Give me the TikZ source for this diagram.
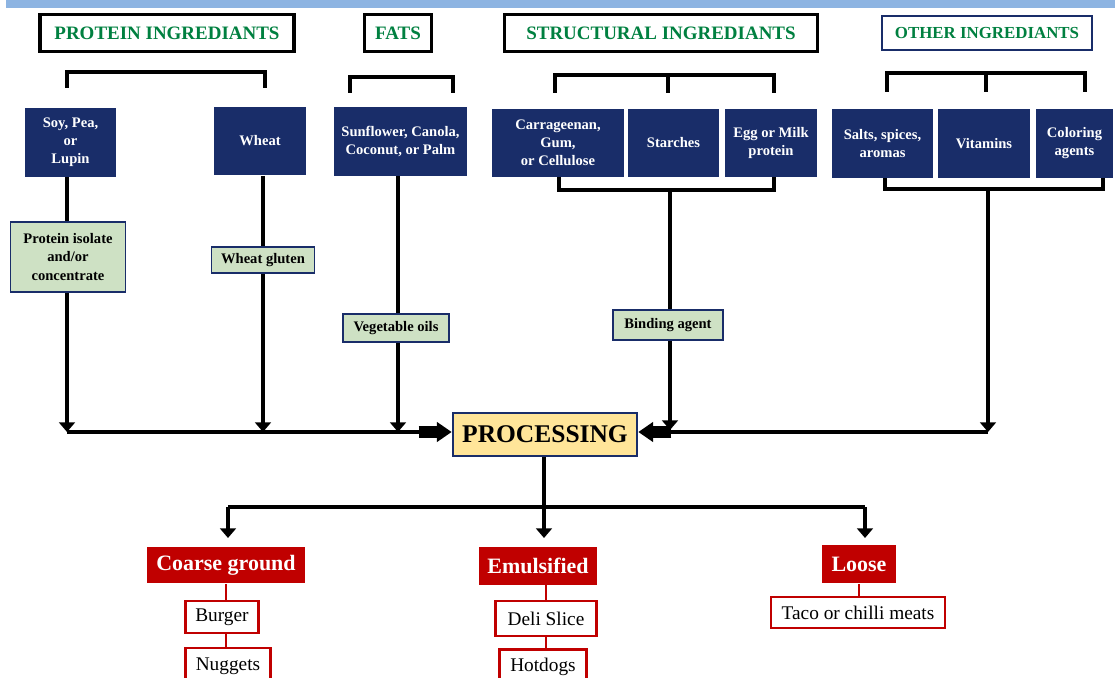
\documentclass[tikz,border=0pt]{standalone}
\usepackage{fontspec}
\setmainfont{Liberation Serif}
\usetikzlibrary{arrows.meta}
\definecolor{navy}{RGB}{25,45,105}
\definecolor{hdrgreen}{RGB}{0,128,64}
\definecolor{sage}{RGB}{206,225,196}
\definecolor{cream}{RGB}{255,229,153}
\definecolor{darkred}{RGB}{192,0,0}
\definecolor{barblue}{RGB}{141,180,226}

\begin{document}
\begin{tikzpicture}[x=0.02cm,y=-0.02cm,
    hdr/.style={draw,line width=1.8pt,fill=white,text=hdrgreen,font=\bfseries\fontsize{10.8}{12}\selectfont,minimum height=0.74cm,inner sep=0pt},
    navybox/.style={fill=navy,text=white,align=center,font=\bfseries\fontsize{8.3}{10.3}\selectfont,minimum height=1.38cm,inner sep=1pt},
    sagebox/.style={draw=navy,line width=1.1pt,fill=sage,align=center,font=\bfseries\fontsize{8.3}{10.3}\selectfont,inner sep=1pt},
    procbox/.style={draw=navy,line width=1.5pt,fill=cream,font=\bfseries\fontsize{14.5}{16}\selectfont,minimum width=3.68cm,minimum height=0.86cm},
    redbox/.style={fill=darkred,text=white,font=\bfseries\fontsize{12.5}{14}\selectfont,inner sep=0pt},
    subbox/.style={draw=darkred,line width=1.4pt,fill=white,font=\fontsize{11}{12}\selectfont,inner sep=0pt},
    brk/.style={line width=2pt},
    flow/.style={line width=2.8pt},
    downtip/.style={-{Triangle[length=5.5pt,width=9pt]}},
    bigtip/.style={-{Triangle[length=8.5pt,width=11pt]}},
    redline/.style={draw=darkred,line width=1pt}]
  \useasboundingbox (0,0) rectangle (1115,678);
  \fill[barblue] (6,0) rectangle (1115,8);

  \node[hdr,minimum width=5.08cm] (hprot)   at (167,33) {PROTEIN INGREDIANTS};
  \node[hdr,minimum width=1.34cm] (hfats)   at (398,33) {FATS};
  \node[hdr,minimum width=6.26cm] (hstruct) at (661,33) {STRUCTURAL INGREDIANTS};
  \node[hdr,draw=navy,line width=1.3pt,font=\bfseries\fontsize{9.6}{11}\selectfont,minimum width=4.2cm,minimum height=0.68cm] (hother) at (987,33) {OTHER INGREDIANTS};

  \draw[brk] (67,88) |- (265,72) -- (265,88);
  \draw[brk] (350,93) |- (453,77) -- (453,93);
  \draw[brk] (555,93) |- (774,75) -- (774,93);
  \draw[brk] (668,75) -- (668,93);
  \draw[brk] (887,92) |- (1085,73) -- (1085,92);
  \draw[brk] (986,73) -- (986,92);

  \node[navybox,minimum width=1.82cm] (soy)    at (70.5,142.5) {Soy, Pea,\\or\\Lupin};
  \node[navybox,minimum width=1.84cm] (wheat)  at (260,141)    {Wheat};
  \node[navybox,minimum width=2.66cm] (sunfl)  at (400.5,141.5) {Sunflower, Canola,\\Coconut, or Palm};
  \node[navybox,minimum width=2.64cm] (carr)   at (558,143)    {Carrageenan,\\Gum,\\or Cellulose};
  \node[navybox,minimum width=1.82cm] (starch) at (673.5,143)  {Starches};
  \node[navybox,minimum width=1.84cm] (egg)    at (771,143)    {Egg or Milk\\protein};
  \node[navybox,minimum width=2.02cm] (salts)  at (882.5,143.5) {Salts, spices,\\aromas};
  \node[navybox,minimum width=1.84cm] (vit)    at (984,143.5)  {Vitamins};
  \node[navybox,minimum width=1.54cm] (color)  at (1074.5,143.5) {Coloring\\agents};

  \draw[brk] (559,177) |- (774,190) -- (774,177);
  \draw[brk] (885,178) |- (1103,189) -- (1103,178);
  \coordinate (sj) at (670,190);
  \coordinate (oj) at (988,189);

  \node[sagebox,minimum width=2.3cm,minimum height=1.4cm] (piso)   at (68,257)  {Protein isolate\\and/or\\concentrate};
  \node[sagebox,minimum width=2.06cm,minimum height=0.52cm] (gluten) at (263,260) {Wheat gluten};
  \node[sagebox,minimum width=2.12cm,minimum height=0.56cm] (vegoil) at (396,328) {Vegetable oils};
  \node[sagebox,minimum width=2.2cm,minimum height=0.6cm] (bind)   at (668,325) {Binding agent};

  \node[procbox] (proc) at (545,434.5) {PROCESSING};

  \coordinate (jl1) at (67,432);
  \coordinate (jl2) at (263,432);
  \coordinate (jl3) at (398,432);
  \coordinate (jb)  at (670,430);
  \coordinate (jr)  at (988,432);

  \draw[flow] (soy.south -| jl1) -- (piso.north -| jl1);
  \draw[flow,downtip] (piso.south -| jl1) -- (jl1);
  \draw[flow] (wheat.south -| jl2) -- (gluten.north -| jl2);
  \draw[flow,downtip] (gluten.south -| jl2) -- (jl2);
  \draw[flow] (sunfl.south -| jl3) -- (vegoil.north -| jl3);
  \draw[flow,downtip] (vegoil.south -| jl3) -- (jl3);
  \draw[flow] (sj) -- (bind.north -| sj);
  \draw[flow,downtip] (bind.south -| sj) -- (jb);
  \draw[flow,downtip] (oj) -- (jr);

  \draw[flow,bigtip] (jl1) -- (proc.west |- jl1);
  \draw[line width=6.4pt] ([xshift=-0.66cm]proc.west |- jl1) -- ([xshift=-0.28cm]proc.west |- jl1);
  \draw[flow,bigtip] (jr) -- (proc.east |- jr);
  \draw[line width=6.4pt] ([xshift=0.66cm]proc.east |- jr) -- ([xshift=0.28cm]proc.east |- jr);

  \node[redbox,minimum width=3.16cm,minimum height=0.74cm] (coarse) at (226,565) {Coarse ground};
  \node[redbox,minimum width=2.36cm,minimum height=0.76cm] (emul)   at (538,566) {Emulsified};
  \node[redbox,minimum width=1.48cm,minimum height=0.78cm] (loose)  at (859,564) {Loose};

  \coordinate (pj) at (544,507);
  \draw[flow] (proc.south -| pj) -- (pj);
  \draw[flow] (pj) -- (228,507);
  \draw[flow] (pj) -- (865,507);
  \draw[flow,downtip] (228,507) -- (228,538);
  \draw[flow,downtip] (pj) -- (544,538);
  \draw[flow,downtip] (865,507) -- (865,538);

  \node[subbox,minimum width=1.46cm,minimum height=0.64cm] (burger)  at (222,617)   {Burger};
  \node[subbox,minimum width=1.7cm,minimum height=0.72cm]  (nuggets) at (228,666)   {Nuggets};
  \node[subbox,minimum width=2.02cm,minimum height=0.7cm]  (deli)    at (546,618.5) {Deli Slice};
  \node[subbox,minimum width=1.74cm,minimum height=0.7cm]  (hotdogs) at (543,667)   {Hotdogs};
  \node[subbox,minimum width=3.48cm,minimum height=0.62cm] (taco)    at (858,612.5) {Taco or chilli meats};

  \draw[redline] (coarse.south) -- (coarse.south |- burger.north);
  \draw[redline] (burger.south -| coarse.south) -- (coarse.south |- nuggets.north);
  \draw[redline] (emul.south -| deli.north) -- (deli.north);
  \draw[redline] (deli.south) -- (deli.south |- hotdogs.north);
  \draw[redline] (loose.south) -- (loose.south |- taco.north);
\end{tikzpicture}
\end{document}
